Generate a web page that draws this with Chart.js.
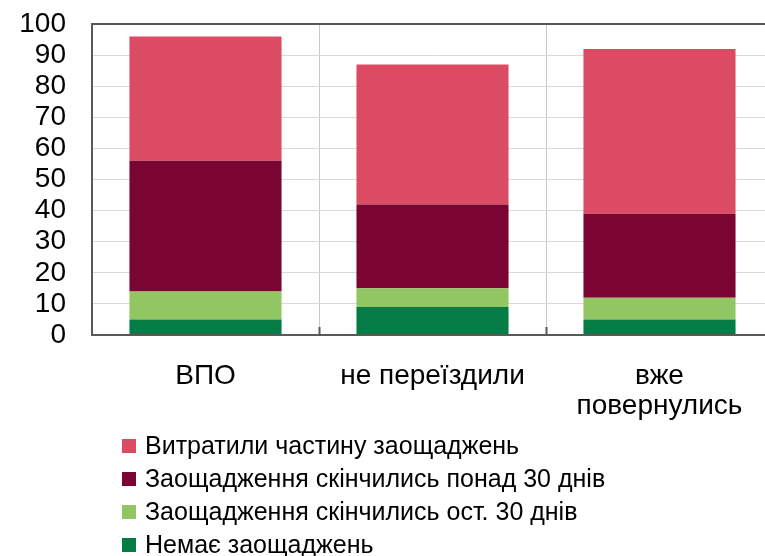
<!DOCTYPE html>
<html>
<head>
<meta charset="utf-8">
<script src="https://cdn.jsdelivr.net/npm/chart.js@4/dist/chart.umd.min.js"></script>
<style>
  html, body { margin: 0; padding: 0; background: #fff; overflow: hidden; }
  #wrap { position: relative; width: 765px; height: 556px; overflow: hidden; }
  #holder { position: absolute; left: 0; top: 0; width: 776px; height: 556px; }
  #chart { width: 776px; height: 556px; }
  #legend { position: absolute; left: 122px; top: 429px; font-family: "Liberation Sans", Arial, sans-serif; font-size: 25px; color: #000; }
  #legend .row { display: flex; align-items: center; height: 33px; line-height: 33px; white-space: nowrap; }
  #legend .box { width: 14px; height: 14px; margin-right: 9px; flex: none; }
</style>
</head>
<body>
<div id="wrap">
  <div id="holder"><canvas id="chart" width="776" height="556"></canvas></div>
  <div id="legend"></div>
</div>
<script>
// categories and series (share of respondents, %)
var categories = ['ВПО', 'не переїздили', ['вже', 'повернулись']];
var seriesNames = ['Немає заощаджень', 'Заощадження скінчились ост. 30 днів', 'Заощадження скінчились понад 30 днів', 'Витратили частину заощаджень'];
var noSavings = [5, 9, 5];
var ranOutLast30 = [9, 6, 7];
var ranOutOver30 = [42, 27, 27];
var spentPart = [40, 45, 53];
var yTicks = [0, 10, 20, 30, 40, 50, 60, 70, 80, 90, 100];

var colors = ['#057C46', '#92C663', '#7B0532', '#DB4C64'];
var seriesValues = [noSavings, ranOutLast30, ranOutOver30, spentPart];

var datasets = seriesValues.map(function (vals, i) {
  return {
    label: seriesNames[i],
    data: vals,
    backgroundColor: colors[i],
    borderWidth: 0,
    categoryPercentage: 0.67,
    barPercentage: 1
  };
});

// plot frame plus short inner ticks between categories
var framePlugin = {
  id: 'frame',
  afterDraw: function (chart) {
    var ctx = chart.ctx, a = chart.chartArea, x = chart.scales.x;
    ctx.save();
    ctx.strokeStyle = '#595959';
    ctx.lineWidth = 2;
    ctx.strokeRect(a.left, a.top, a.right - a.left, a.bottom - a.top);
    for (var i = 0; i < categories.length - 1; i++) {
      var px = Math.round((x.getPixelForValue(i) + x.getPixelForValue(i + 1)) / 2) + 0.5;
      ctx.beginPath();
      ctx.moveTo(px, a.bottom);
      ctx.lineTo(px, a.bottom - 8);
      ctx.stroke();
    }
    ctx.restore();
  }
};

var ctx = document.getElementById('chart');
var chart = new Chart(ctx, {
  type: 'bar',
  data: { labels: categories, datasets: datasets },
  plugins: [framePlugin],
  options: {
    responsive: false,
    animation: false,
    layout: { padding: { top: 24, left: 0, right: 3, bottom: 0 } },
    plugins: { legend: { display: false }, tooltip: { enabled: false } },
    scales: {
      x: {
        stacked: true,
        grid: { color: '#c8c8c8', lineWidth: 1, drawTicks: false, offset: true },
        border: { display: false },
        ticks: {
          color: '#000',
          padding: 26,
          maxRotation: 0,
          autoSkip: false,
          font: { family: '"Liberation Sans", Arial, sans-serif', size: 28, lineHeight: 1.07 }
        },
        afterFit: function (scale) { scale.height = 556 - 335; }
      },
      y: {
        stacked: true,
        min: 0,
        max: 100,
        afterBuildTicks: function (scale) {
          scale.ticks = yTicks.map(function (v) { return { value: v }; });
        },
        grid: { color: '#d9d9d9', lineWidth: 1, drawTicks: false },
        border: { display: false },
        ticks: {
          color: '#000',
          padding: 26,
          autoSkip: false,
          font: { family: '"Liberation Sans", Arial, sans-serif', size: 28, lineHeight: 1 }
        },
        afterFit: function (scale) {
          scale.width = 92;
          // tick padding should not push the plot down
          scale.paddingTop = 0;
          scale.paddingBottom = 0;
        }
      }
    }
  }
});

// legend, top series first
var legend = document.getElementById('legend');
for (var i = datasets.length - 1; i >= 0; i--) {
  var row = document.createElement('div');
  row.className = 'row';
  var box = document.createElement('span');
  box.className = 'box';
  box.style.background = datasets[i].backgroundColor;
  var txt = document.createElement('span');
  txt.textContent = datasets[i].label;
  row.appendChild(box);
  row.appendChild(txt);
  legend.appendChild(row);
}
</script>
</body>
</html>
